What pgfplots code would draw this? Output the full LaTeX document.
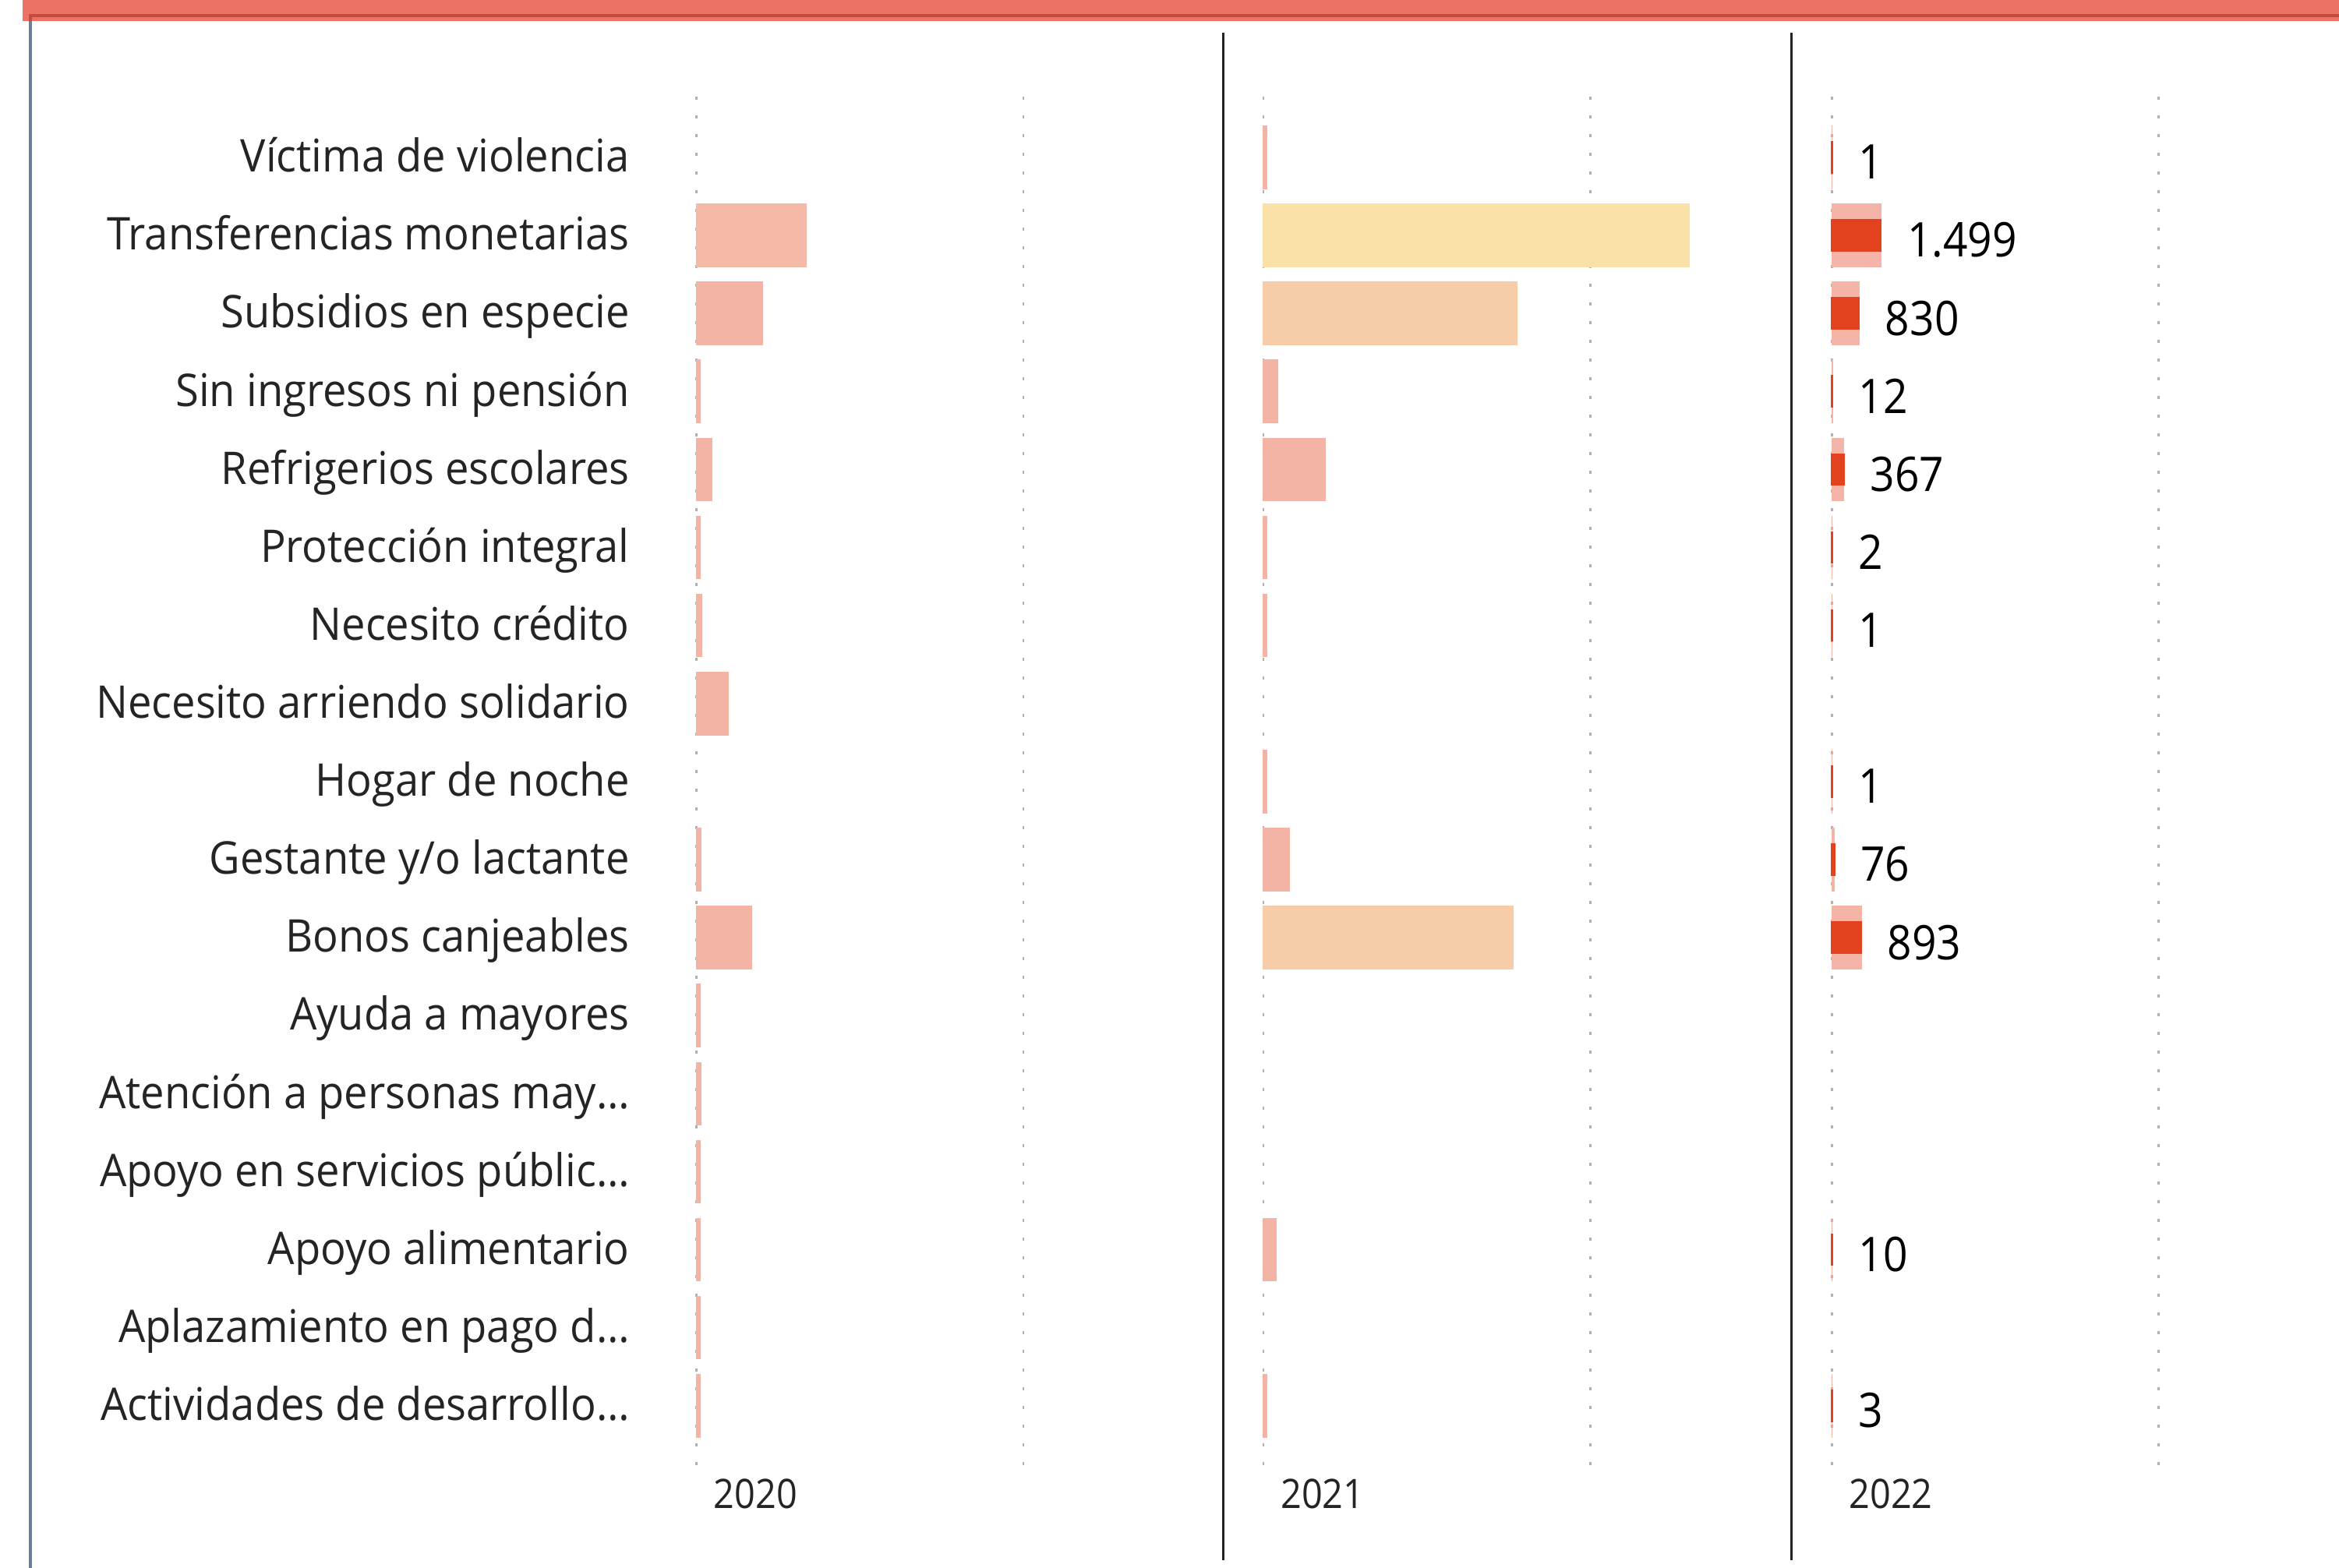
\documentclass[border=0pt]{standalone}
\usepackage{fontspec}
\setmainfont{Open Sans}[FakeStretch=0.9]
\newfontfamily\catfamily{Open Sans}[FakeStretch=0.94]
\usepackage{pgfplots}
\pgfplotsset{compat=1.18}
\usepackage{pgfplotstable}

\definecolor{pinkbar}{HTML}{F3B3A5}
\definecolor{pinkorange}{HTML}{F5B9A7}
\definecolor{peachbar}{HTML}{F7CCA8}
\definecolor{yellowbar}{HTML}{FAE1A8}
\definecolor{lightpink}{HTML}{F4B4A7}
\definecolor{darkred}{HTML}{E3421F}
\definecolor{labgray}{HTML}{252423}
\definecolor{gridgray}{HTML}{B0B0B0}
\definecolor{bandred}{HTML}{EC7364}
\definecolor{framered}{HTML}{C24B40}
\definecolor{frameblue}{HTML}{6C7E9D}

\newcommand\catfont{\catfamily\fontsize{15.1}{18}\selectfont}
\newcommand\valfont{\fontsize{16}{19}\selectfont}
\newcommand\yearfont{\fontsize{13.6}{16}\selectfont}

% 2022: value in thousands, row, label
\pgfplotstableread{
x     y  lab
0.001 0  1
1.499 1  1.499
0.830 2  830
0.012 3  12
0.367 4  367
0.002 5  2
0.001 6  1
0.001 8  1
0.076 9  76
0.893 10 893
0.010 14 10
0.003 16 3
}\tabtwentytwo

\pgfplotsset{
  panel/.style={
    scale only axis, x=10.95pt, y=26.155pt,
    xmin=0, xmax=15, ymin=-0.774, ymax=16.775, y dir=reverse,
    anchor=south west, clip=false,
    axis line style={draw=none}, major tick length=0pt,
    xtick={0,10}, xticklabels={,,}, xmajorgrids=true,
    grid style={draw=gridgray, line width=0.7pt, dash pattern=on 0.9pt off 5.37pt},
    ytick=\empty,
  },
  hbar/.style={xbar, bar shift=0pt, bar width=20.92pt, fill=#1, draw=#1, line width=0.4pt},
  thinbar/.style={xbar, bar shift=0pt, bar width=10.2pt, fill=#1, draw=#1, line width=0.7pt},
}
\tikzset{year/.style={anchor=base west, inner sep=0pt, font=\yearfont, text=labgray}}

\begin{document}
\begin{tikzpicture}

% 2020
\begin{axis}[panel, at={(233.5pt,34pt)},
  ytick={0,...,16},
  yticklabels={Víctima de violencia,Transferencias monetarias,Subsidios en especie,Sin ingresos ni pensión,Refrigerios escolares,Protección integral,Necesito crédito,Necesito arriendo solidario,Hogar de noche,Gestante y/o lactante,Bonos canjeables,Ayuda a mayores,Atención a personas may…,Apoyo en servicios públic…,Apoyo alimentario,Aplazamiento en pago d…,Actividades de desarrollo…},
  yticklabel style={anchor=base east, inner sep=0pt, xshift=-22.3pt, yshift=-4.9pt, font=\catfont, text=labgray},
]
\addplot[hbar=pinkorange] coordinates {(3.341,1)};
\addplot[hbar=pinkbar] coordinates {
  (2.005,2) (0.107,3) (0.453,4) (0.095,5) (0.143,6) (0.976,7) (0.119,9)
  (1.690,10) (0.095,11) (0.119,12) (0.095,13) (0.095,14) (0.095,15) (0.095,16)};
\node[year] at ([xshift=5.6pt,yshift=-14.25pt]axis description cs:0,0) {2020};
\end{axis}

% 2021
\begin{axis}[panel, at={(423.5pt,34pt)}]
\addplot[hbar=yellowbar] coordinates {(13.03,1)};
\addplot[hbar=peachbar] coordinates {(7.757,2) (7.630,10)};
\addplot[hbar=pinkbar] coordinates {
  (0.095,0) (0.430,3) (1.880,4) (0.095,5) (0.095,6) (0.095,8) (0.786,9)
  (0.381,14) (0.095,16)};
\node[year] at ([xshift=5.6pt,yshift=-14.25pt]axis description cs:0,0) {2021};
\end{axis}

% 2022
\begin{axis}[panel, at={(614pt,34pt)}]
\addplot[hbar=lightpink] table[x=x, y=y] {\tabtwentytwo};
\addplot[thinbar=darkred, point meta=explicit symbolic, nodes near coords,
  every node near coord/.append style={anchor=base west, inner sep=0pt,
    xshift=8.5pt, yshift=-7.3pt, font=\valfont, text=black}]
  table[x=x, y=y, meta=lab] {\tabtwentytwo};
\node[year] at ([xshift=5.6pt,yshift=-14.25pt]axis description cs:0,0) {2022};
\end{axis}

% frame, header band and panel separators
\fill[bandred] (7.5pt,518.5pt) rectangle (784pt,525.5pt);
\fill[framered] (9.65pt,519.75pt) rectangle (784pt,520.8pt);
\fill[framered] (9.65pt,518.5pt) rectangle (10.65pt,520.8pt);
\fill[frameblue] (9.65pt,0pt) rectangle (10.65pt,518.5pt);
\draw[labgray, line width=0.8pt] (410pt,2.5pt) -- (410pt,514.5pt);
\draw[labgray, line width=0.8pt] (600.5pt,2.5pt) -- (600.5pt,514.5pt);

\pgfresetboundingbox
\path[use as bounding box] (0pt,0pt) rectangle (784pt,525.5pt);
\end{tikzpicture}
\end{document}
